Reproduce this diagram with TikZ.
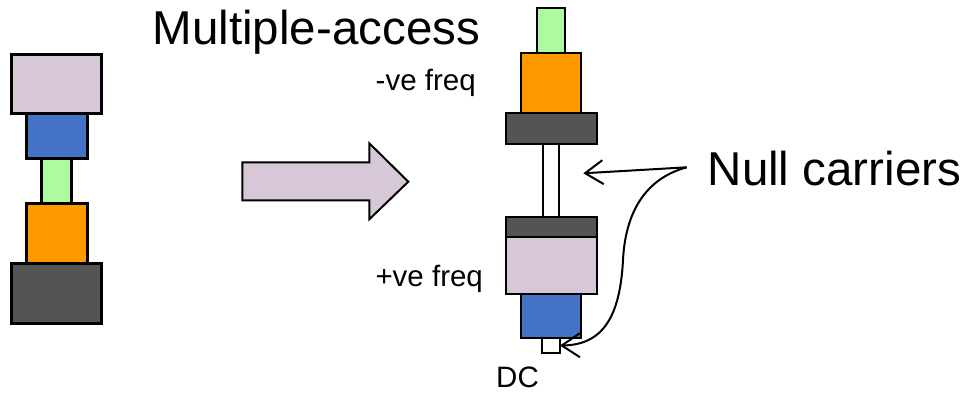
\documentclass[tikz,border=0pt]{standalone}
\usepackage{fontspec}
\setmainfont{Liberation Sans}
\usetikzlibrary{fit,arrows.meta}

\definecolor{lilac}{RGB}{215,200,215}
\definecolor{sblue}{RGB}{68,114,196}
\definecolor{sgreen}{RGB}{173,250,160}
\definecolor{sorange}{RGB}{255,153,0}
\definecolor{sdark}{RGB}{84,84,84}

\tikzset{
  blkthick/.style={draw=black, line width=3pt, inner sep=0pt, outer sep=0pt},
  blkthin/.style={draw=black, line width=2pt, inner sep=0pt, outer sep=0pt},
  bigtext/.style={inner sep=0pt, anchor=base west, font=\fontsize{47.5}{57}\selectfont},
  smalltext/.style={inner sep=0pt, anchor=base west, font=\fontsize{29.5}{35}\selectfont},
  callout/.style={line width=2pt, -{Straight Barb[length=18pt,width=24pt,line width=2pt]}},
}

\begin{document}
\begin{tikzpicture}[x=1pt, y=-1pt]
  \useasboundingbox (0,0) rectangle (966,394);

  % original allocation (left stack)
  \node[blkthick, fill=lilac,   fit={(11.7,54) (101.7,113.3)}]    (lLilac)  {};
  \node[blkthick, fill=sblue,   fit={(26.7,113.3) (87.3,158.3)}]  (lBlue)   {};
  \node[blkthick, fill=sgreen,  fit={(41.7,158.3) (71.7,203.3)}]  (lGreen)  {};
  \node[blkthick, fill=sorange, fit={(26.7,203.3) (87.3,263.3)}]  (lOrange) {};
  \node[blkthick, fill=sdark,   fit={(11.7,263.3) (101.7,323.3)}] (lDark)   {};

  % block arrow
  \draw[line width=2pt, fill=lilac, line join=miter]
    (242.3,162.3) -- (369.3,162.3) -- (369.3,143.3) -- (408.3,181.7)
    -- (369.3,219.3) -- (369.3,200.3) -- (242.3,200.3) -- cycle;

  % multiple-access allocation (right stack)
  \node[blkthin, fill=sgreen,  fit={(537.3,8.3) (565,53.3)}]      (rGreen)  {};
  \node[blkthin, fill=sorange, fit={(521,53.3) (581,113.3)}]      (rOrange) {};
  \node[blkthin, fill=sdark,   fit={(506,113.3) (596.7,144)}]     (rDarkA)  {};
  \node[blkthin, fill=white,   fit={(543.3,144) (559.3,217.3)}]   (rNull)   {};
  \node[blkthin, fill=sdark,   fit={(505.7,217.3) (597.3,237.3)}] (rDarkB)  {};
  \node[blkthin, fill=lilac,   fit={(505.7,237.3) (597.3,294)}]   (rLilac)  {};
  \node[blkthin, fill=sblue,   fit={(521,294) (581,338.3)}]       (rBlue)   {};
  \node[blkthin, fill=white,   fit={(541.7,338.3) (560,352.7)}]   (rDC)     {};

  % labels
  \node[bigtext]   (title) at (152.5,44)   {Multiple-access};
  \node[bigtext]   (ncar)  at (707.5,185)  {Null carriers};
  \node[smalltext] (neg)   at (375.5,90)   {-ve freq};
  \node[smalltext] (pos)   at (375.3,286.7) {+ve freq};
  \node[smalltext] (dc)    at (496,387)    {DC};

  % callout arrows
  \coordinate (src) at (686.7,167.3);
  \draw[callout] (src) -- ([xshift=24pt]rNull.east |- 0,173.3);
  \draw[callout] (src) .. controls (640,180) and (625,220) .. (623,260)
    .. controls (620,318) and (602,345) .. (rDC.east);
\end{tikzpicture}
\end{document}
